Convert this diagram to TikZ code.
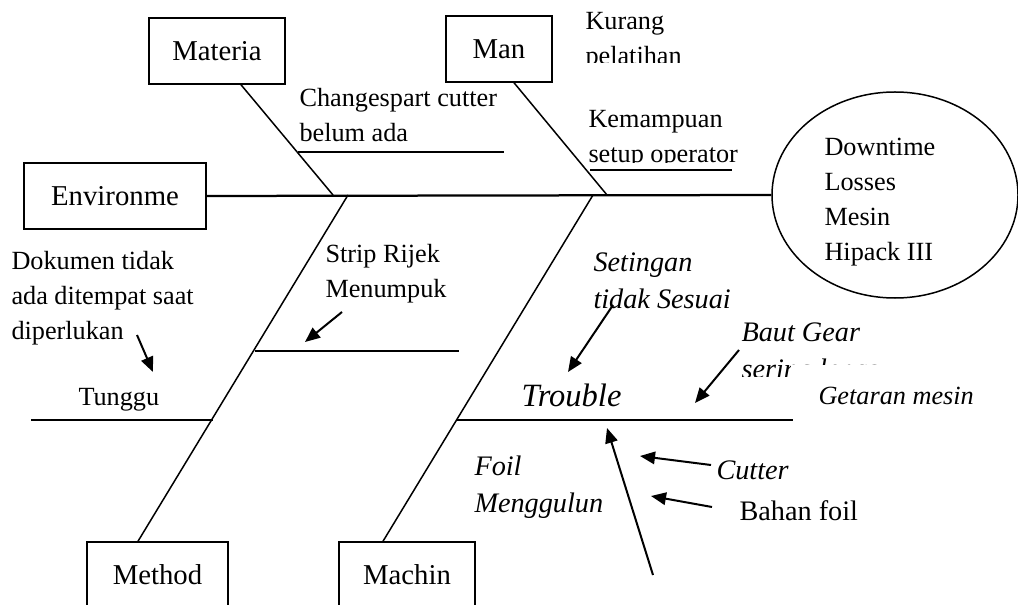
\documentclass[tikz,border=0pt]{standalone}
\usepackage{fontspec}
\setmainfont{Liberation Serif}
\usetikzlibrary{arrows.meta,shapes.geometric}

\begin{document}
\begin{tikzpicture}[
    x=0.4pt, y=-0.4pt,
    cause/.style={draw, line width=0.6pt, inner sep=0pt,
      minimum height=26.4pt, font=\fontsize{11.5}{14}\selectfont},
    note/.style={anchor=north west, inner sep=0pt, align=left,
      font=\fontsize{10.5}{14}\selectfont},
    slant/.style={note, font=\fontsize{11.3}{15}\selectfont\itshape},
    bone/.style={line width=0.6pt},
    pointer/.style={line width=0.8pt, -{Triangle[length=6pt,width=5pt]}},
  ]
  \clip (0,0) rectangle (1018,605);

  % categories
  \node[cause, minimum width=54.4pt] (materia) at (217,51) {Materia};
  \node[cause, minimum width=42.4pt] (man) at (499,49) {Man};
  \node[cause, minimum width=72.8pt] (environme) at (115,196) {Environme};
  \node[cause, minimum width=56.4pt] (method) at (157.5,575) {Method};
  \node[cause, minimum width=54.4pt] (machin) at (407,575) {Machin};

  % effect
  \node[draw, ellipse, line width=0.6pt, minimum width=98.4pt,
        minimum height=82.4pt] (effect) at (895,195) {};
  \node[note] (effecttext) at (824,138) {Downtime\\Losses\\Mesin\\Hipack III};

  \draw[line width=0.9pt] (environme.east) -- (effect.west);

  \coordinate (jmat) at (333,195);
  \coordinate (jman) at (607,195);
  \coordinate (jmet) at (348,195);
  \coordinate (jmac) at (593,195);
  \draw[bone] ([xshift=9.6pt]materia.south) -- (jmat);
  \draw[bone] ([xshift=6pt]man.south) -- (jman);
  \draw[bone] (jmet) -- ([xshift=-7.8pt]method.north);
  \draw[bone] (jmac) -- ([xshift=-9.6pt]machin.north);

  % sub causes
  \coordinate (chgL) at (298,152);  \coordinate (chgR) at (504,152);
  \coordinate (kemL) at (590,170);  \coordinate (kemR) at (732,170);
  \coordinate (strL) at (255,351);  \coordinate (strR) at (459,351);
  \coordinate (tunL) at (31,420);   \coordinate (tunR) at (213,420);
  \coordinate (troL) at (456,420);  \coordinate (troR) at (793,420);
  \foreach \a/\b in {chgL/chgR, kemL/kemR, strL/strR, tunL/tunR, troL/troR}
    \draw[bone] (\a) -- (\b);

  \node[note] (changespart) at (299,88) {Changespart cutter\\belum ada};
  \begin{scope}
    \clip (580,0) rectangle (760,63);
    \node[note] (kurang) at (585,12) {Kurang\\pelatihan};
  \end{scope}
  \begin{scope}
    \clip (580,100) rectangle (760,163);
    \node[note] (kemampuan) at (588,110) {Kemampuan\\setup operator};
  \end{scope}
  \node[note] (dokumen) at (11,251) {Dokumen tidak\\ada ditempat saat\\diperlukan};
  \node[note] (strip) at (325,244) {Strip Rijek\\Menumpuk};
  \node[note] (tunggu) at (78,388) {Tunggu};

  \node[slant] (setingan) at (593,252) {Setingan\\tidak Sesuai};
  \begin{scope}
    \clip (730,300) -- (900,300) -- (900,364) -- (790,364)
      -- (790,376) -- (730,376) -- cycle;
    \node[slant] (baut) at (741,322) {Baut Gear\\sering lepas};
  \end{scope}
  \node[anchor=north west, inner sep=0pt,
        font=\fontsize{10.5}{14}\selectfont\itshape] (getaran) at (818,387) {Getaran mesin};
  \node[slant, font=\fontsize{13}{15}\selectfont\itshape] (trouble) at (521,383) {Trouble};
  \node[slant] (foil) at (474,455) {Foil\\Menggulun};
  \node[slant] (cutter) at (716,460) {Cutter};
  \node[note, font=\fontsize{11.3}{14}\selectfont] (bahan) at (739,500) {Bahan foil};

  % arrows
  \coordinate (a1s) at (342,312);  \coordinate (a1e) at (305,342);
  \coordinate (a2s) at (137,335);  \coordinate (a2e) at (153,372);
  \coordinate (a3s) at (613,305);  \coordinate (a3e) at (568,372);
  \coordinate (a4s) at (739,350);  \coordinate (a4e) at (695,403);
  \coordinate (a5s) at (653,575);  \coordinate (a5e) at (607,428);
  \coordinate (a6s) at (711,465);  \coordinate (a6e) at (640,456);
  \coordinate (a7s) at (712,507);  \coordinate (a7e) at (651,496);
  \foreach \s/\e in {a1s/a1e, a2s/a2e, a3s/a3e, a4s/a4e, a5s/a5e, a6s/a6e, a7s/a7e}
    \draw[pointer] (\s) -- (\e);
\end{tikzpicture}
\end{document}
